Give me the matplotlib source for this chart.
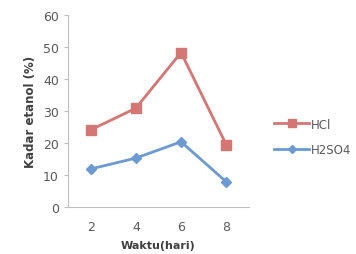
import matplotlib.pyplot as plt

# 数据
waktu = [2, 4, 6, 8]
hcl = [24.1, 30.9, 48.3, 19.5]
h2so4 = [11.9, 15.3, 20.4, 7.9]
y_ticks = [0, 10, 20, 30, 40, 50, 60]

fig = plt.figure(figsize=(3.56, 2.55), dpi=100)
ax = fig.add_axes([0.191, 0.184, 0.508, 0.753])

pos = list(range(len(waktu)))
ax.plot(pos, hcl, color='#D47674', marker='s', markersize=7, linewidth=2, label='HCl')
ax.plot(pos, h2so4, color='#6C9AD2', marker='D', markersize=5, linewidth=2, label='H2SO4')

ax.set_xlim(-0.5, len(waktu) - 0.5)
ax.set_ylim(0, 60)
ax.set_xticks(pos)
ax.set_xticklabels([str(w) for w in waktu])
ax.set_yticks(y_ticks)

for s in ['top', 'right']:
    ax.spines[s].set_visible(False)
for s in ['left', 'bottom']:
    ax.spines[s].set_color('#BFBFBF')
ax.tick_params(axis='both', colors='#BFBFBF', labelcolor='#595959', labelsize=9, length=3)
ax.tick_params(axis='x', length=0, pad=9)

ax.set_xlabel('Waktu(hari)', fontsize=8, fontweight='bold', color='#404040', labelpad=5)
ax.set_ylabel('Kadar etanol (%)', fontsize=8.5, fontweight='bold', color='#404040', labelpad=4)

ax.legend(loc='center left', bbox_to_anchor=(1.138, 0.365), frameon=False, fontsize=8.5,
          labelcolor='#595959', handlelength=3.0, handletextpad=0.1, labelspacing=1.1,
          borderaxespad=0, borderpad=0, markerscale=0.8)

fig.savefig('out.png', dpi=100)
